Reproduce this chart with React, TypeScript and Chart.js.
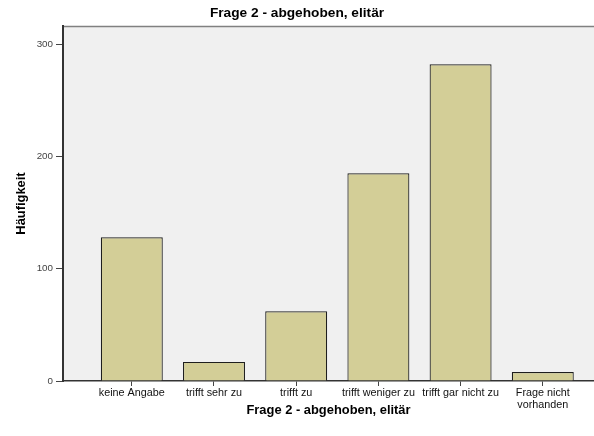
import React, { useEffect, useRef } from "react";
import { Chart, registerables } from "chart.js";

Chart.register(...registerables);

const categories: (string | string[])[] = [
  "keine Angabe",
  "trifft sehr zu",
  "trifft zu",
  "trifft weniger zu",
  "trifft gar nicht zu",
  ["Frage nicht", "vorhanden"],
];
const counts = [128, 17, 62, 185, 282, 8];
const yTicks = [0, 100, 200, 300];
const chartTitle = "Frage 2 - abgehoben, elitär";
const xTitle = "Frage 2 - abgehoben, elitär";
const yTitle = "Häufigkeit";

const FONT = "'Liberation Sans', Arial, sans-serif";

const plotBg = {
  id: "plotBg",
  beforeDraw(chart: any) {
    const { ctx, chartArea } = chart;
    if (!chartArea) return;
    ctx.save();
    ctx.fillStyle = "#f0f0f0";
    ctx.fillRect(chartArea.left, chartArea.top, chartArea.right - chartArea.left, chartArea.bottom - chartArea.top);
    ctx.strokeStyle = "#808080";
    ctx.lineWidth = 1.5;
    ctx.beginPath();
    ctx.moveTo(chartArea.left, chartArea.top + 0.5);
    ctx.lineTo(chartArea.right, chartArea.top + 0.5);
    ctx.stroke();
    ctx.restore();
  },
};

export default function App() {
  const ref = useRef<HTMLCanvasElement>(null);
  useEffect(() => {
    if (!ref.current) return;
    const chart = new Chart(ref.current, {
      type: "bar",
      data: {
        datasets: [
          {
            data: counts.map((v, i) => ({ x: i, y: v })),
            backgroundColor: "#d3ce97",
            borderColor: "#1e1e1e",
            borderWidth: 1.2,
            categoryPercentage: 1,
            barPercentage: 0.754,
          },
        ],
      },
      options: {
        animation: false,
        responsive: false,
        maintainAspectRatio: false,
        layout: { padding: 0 },
        plugins: {
          legend: { display: false },
          tooltip: { enabled: false },
          title: {
            display: true,
            text: chartTitle,
            color: "#000",
            font: { family: FONT, size: 13.7, weight: "bold" },
            padding: { top: 5, bottom: 4.6 },
          },
        },
        scales: {
          x: {
            type: "linear",
            offset: false,
            min: -0.837,
            max: 5.623,
            afterBuildTicks: (scale: any) => {
              scale.ticks = categories.map((_, i) => ({ value: i }));
            },
            afterFit: (scale: any) => {
              scale.height = 55;
            },
            ticks: {
              autoSkip: false,
              maxRotation: 0,
              minRotation: 0,
              padding: 1,
              color: "#111",
              font: { family: FONT, size: 10.8, lineHeight: 1.1 },
              callback: (v: any) => categories[v as number] as any,
            },
            grid: { offset: false, drawOnChartArea: false, color: "#444", tickLength: 5 },
            border: { color: "#333", width: 1.5 },
            title: {
              display: true,
              text: xTitle,
              color: "#000",
              font: { family: FONT, size: 12.9, weight: "bold" },
              padding: { top: 4, bottom: 18 },
            },
          },
          y: {
            min: 0,
            max: 316,
            afterBuildTicks: (scale: any) => {
              scale.ticks = yTicks.map((v) => ({ value: v }));
            },
            afterFit: (scale: any) => {
              scale.width = 63;
            },
            ticks: {
              padding: 3,
              color: "#444",
              font: { family: FONT, size: 9.8 },
            },
            grid: { drawOnChartArea: false, color: "#444", tickLength: 7 },
            border: { color: "#333", width: 2 },
            title: {
              display: true,
              text: yTitle,
              color: "#000",
              font: { family: FONT, size: 12.9, weight: "bold" },
              padding: { top: 14, bottom: 0 },
            },
          },
        },
      } as any,
      plugins: [plotBg],
    });
    return () => chart.destroy();
  }, []);
  return (
    <div style={{ position: "fixed", left: 0, top: 0, width: 594, height: 436, background: "#fff" }}>
      <canvas ref={ref} width={594} height={436} style={{ width: 594, height: 436 }} />
    </div>
  );
}
